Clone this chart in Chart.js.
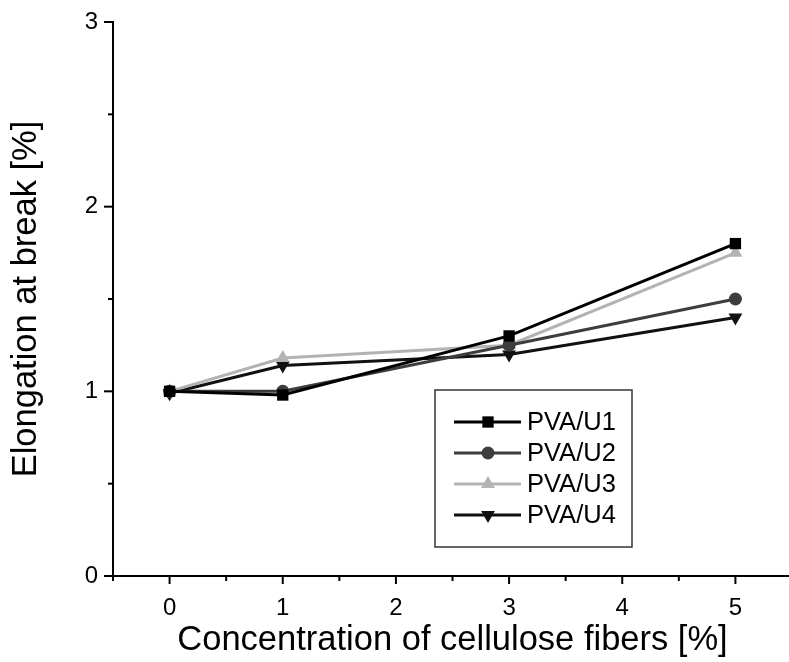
<!DOCTYPE html>
<html>
<head>
<meta charset="utf-8">
<script src="https://cdn.jsdelivr.net/npm/chart.js@4/dist/chart.umd.min.js"></script>
<style>
  body { margin: 0; background: #fff; }
  #wrap { width: 789px; height: 662px; overflow: hidden; }
</style>
</head>
<body>
<div id="wrap"><canvas id="elongChart" width="800" height="662"></canvas></div>
<script>
// values
var concentrations = [0, 1, 3, 5];
var pvaU1 = [1.00, 0.98, 1.30, 1.80];
var pvaU2 = [1.00, 1.00, 1.25, 1.50];
var pvaU3 = [1.00, 1.18, 1.25, 1.75];
var pvaU4 = [0.99, 1.14, 1.20, 1.40];
var seriesNames = ['PVA/U1', 'PVA/U2', 'PVA/U3', 'PVA/U4'];

var FONT = '"Liberation Sans", Arial, sans-serif';

function toPoints(vals) {
  return vals.map(function (v, i) { return { x: concentrations[i], y: v }; });
}

function makeSet(name, vals, color, style, radius, rot) {
  return {
    label: name,
    data: toPoints(vals),
    borderColor: color,
    backgroundColor: color,
    borderWidth: 3,
    pointStyle: style,
    pointRadius: radius,
    pointRotation: rot || 0,
    pointBorderWidth: 0,
    pointHoverRadius: radius,
    tension: 0
  };
}

// no automatic label padding, the plot box is fixed
function noPad(s) {
  s.paddingTop = 0; s.paddingBottom = 0; s.paddingLeft = 0; s.paddingRight = 0;
}

// draws outward major/minor ticks from the scales
var tickMarks = {
  id: 'tickMarks',
  afterDraw: function (chart) {
    var ctx = chart.ctx;
    var xs = chart.scales.x, ys = chart.scales.y;
    var area = chart.chartArea;
    ctx.save();
    ctx.strokeStyle = '#000';
    ctx.lineWidth = 2;
    xs.ticks.forEach(function (t) {
      var px = xs.getPixelForValue(t.value);
      var len = Number.isInteger(t.value) ? 8 : 5;
      ctx.beginPath();
      ctx.moveTo(px, area.bottom);
      ctx.lineTo(px, area.bottom + len);
      ctx.stroke();
    });
    ys.ticks.forEach(function (t) {
      var py = ys.getPixelForValue(t.value);
      var len = Number.isInteger(t.value) ? 9 : 5;
      ctx.beginPath();
      ctx.moveTo(area.left, py);
      ctx.lineTo(area.left - len, py);
      ctx.stroke();
    });
    ctx.restore();
  }
};

function drawMarker(ctx, style, rot, r, x, y) {
  ctx.beginPath();
  if (style === 'rect') {
    var s = r * Math.SQRT1_2;
    ctx.rect(x - s, y - s, 2 * s, 2 * s);
  } else if (style === 'circle') {
    ctx.arc(x, y, r, 0, Math.PI * 2);
  } else {
    var a0 = (rot * Math.PI / 180) - Math.PI / 2;
    for (var k = 0; k < 3; k++) {
      var a = a0 + k * 2 * Math.PI / 3;
      var px = x + r * Math.cos(a), py = y + r * Math.sin(a);
      if (k === 0) ctx.moveTo(px, py); else ctx.lineTo(px, py);
    }
    ctx.closePath();
  }
  ctx.fill();
}

// legend box inside the plot, like the original
var boxLegend = {
  id: 'boxLegend',
  afterDraw: function (chart) {
    var ctx = chart.ctx;
    var left = 435, top = 390, w = 197, h = 157;
    ctx.save();
    ctx.fillStyle = '#fff';
    ctx.fillRect(left, top, w, h);
    ctx.strokeStyle = '#333';
    ctx.lineWidth = 1.5;
    ctx.strokeRect(left, top, w, h);
    chart.data.datasets.forEach(function (ds, i) {
      var y = 422 + i * 31;
      ctx.strokeStyle = ds.borderColor;
      ctx.lineWidth = 3;
      ctx.beginPath();
      ctx.moveTo(454, y);
      ctx.lineTo(521, y);
      ctx.stroke();
      ctx.fillStyle = ds.backgroundColor;
      drawMarker(ctx, ds.pointStyle, ds.pointRotation, ds.pointRadius, 488, y);
      ctx.fillStyle = '#000';
      ctx.font = '25.5px ' + FONT;
      ctx.textBaseline = 'middle';
      ctx.textAlign = 'left';
      ctx.fillText(ds.label, 527, y + 1);
    });
    ctx.restore();
  }
};

new Chart(document.getElementById('elongChart'), {
  type: 'line',
  data: {
    datasets: [
      makeSet(seriesNames[0], pvaU1, '#000000', 'rect', 8, 0),
      makeSet(seriesNames[1], pvaU2, '#3d3d3d', 'circle', 6.5, 0),
      makeSet(seriesNames[2], pvaU3, '#b3b3b3', 'triangle', 8, 0),
      makeSet(seriesNames[3], pvaU4, '#111111', 'triangle', 8, 180)
    ]
  },
  options: {
    responsive: false,
    animation: false,
    events: [],
    layout: { padding: { top: 22, right: 7, left: 0, bottom: 0 } },
    plugins: {
      legend: { display: false },
      tooltip: { enabled: false }
    },
    scales: {
      x: {
        type: 'linear',
        min: -0.5,
        max: 5.5,
        afterFit: function (s) { s.height = 86; noPad(s); },
        grid: { display: false, drawTicks: false },
        border: { display: true, color: '#000', width: 2 },
        ticks: {
          stepSize: 0.5,
          autoSkip: false,
          maxRotation: 0,
          padding: 18,
          color: '#000',
          font: { family: FONT, size: 24 },
          callback: function (v) { return Number.isInteger(v) ? String(v) : ''; }
        },
        title: {
          display: true,
          text: 'Concentration of cellulose fibers [%]',
          color: '#000',
          font: { family: FONT, size: 34.5 },
          padding: { top: 0, bottom: 1 }
        }
      },
      y: {
        min: 0,
        max: 3,
        afterFit: function (s) { s.width = 113; noPad(s); },
        grid: { display: false, drawTicks: false },
        border: { display: true, color: '#000', width: 2 },
        ticks: {
          stepSize: 0.5,
          autoSkip: false,
          padding: 15,
          color: '#000',
          font: { family: FONT, size: 24 },
          callback: function (v) { return Number.isInteger(v) ? String(v) : ''; }
        },
        title: {
          display: true,
          text: 'Elongation at break [%]',
          color: '#000',
          font: { family: FONT, size: 34.5 },
          padding: { top: 6, bottom: 0 }
        }
      }
    }
  },
  plugins: [tickMarks, boxLegend]
});
</script>
</body>
</html>
